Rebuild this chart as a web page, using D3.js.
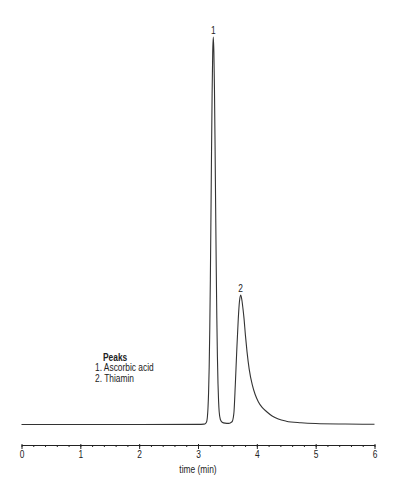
<!DOCTYPE html>
<html>
<head>
<meta charset="utf-8">
<script src="https://cdn.jsdelivr.net/npm/d3@7"></script>
<style>
  body { margin: 0; background: #fff; }
  text { font-family: "Liberation Sans", Arial, sans-serif; }
</style>
</head>
<body>
<script>
// chromatogram trace: retention time (min), signal (arb. units, peak 1 = 100)
const times = [0, 1, 2, 3.0, 3.10, 3.13, 3.15, 3.16, 3.17, 3.18, 3.19, 3.20, 3.21, 3.22, 3.23, 3.24, 3.25,
  3.26, 3.27, 3.28, 3.29, 3.30, 3.31, 3.32, 3.33, 3.34, 3.35, 3.36, 3.38, 3.41, 3.46, 3.52, 3.555,
  3.583, 3.60, 3.612, 3.634, 3.658, 3.685, 3.705, 3.726, 3.745, 3.765, 3.782, 3.805, 3.833, 3.87,
  3.923, 3.97, 4.025, 4.09, 4.168, 4.26, 4.365, 4.5, 4.75, 5.0, 5.5, 6.0];
const signal = [0, 0, 0, 0.03, 0.1, 0.3, 0.9, 2.0, 4.3, 8.3, 14.8, 24.5, 37.5, 53.5, 70.5, 85.5, 96,
  100, 96, 86.5, 72, 56, 40.5, 27.5, 17.5, 10.5, 6, 3.3, 1.3, 0.6, 0.35, 0.3, 0.45,
  0.8, 1.8, 3.3, 10.2, 18.8, 27.4, 31.8, 33.4, 32.2, 29.8, 27.4, 23.2, 18.8, 14.3,
  10.2, 7.8, 5.9, 4.4, 3.3, 2.2, 1.4, 0.85, 0.45, 0.25, 0.12, 0.06];

const peakNames = ["Ascorbic acid", "Thiamin"];
const peakTimes = [3.26, 3.726];
const peakHeights = [100, 33.4];

const xTicks = [0, 1, 2, 3, 4, 5, 6];
const minorTicks = d3.range(0, 31).map(i => i * 0.2);

const data = times.map((t, i) => ({t: t, v: signal[i]}));

const width = 396, height = 500;
const narrow = 0.84;   // the original uses a condensed face

const svg = d3.select("body").append("svg")
    .attr("width", width)
    .attr("height", height);

const x = d3.scaleLinear()
    .domain([0, 6])
    .range([21.5, 374.5]);

const y = d3.scaleLinear()
    .domain([0, 100])
    .range([424.5, 37]);

const axisY = 445;

// minor ticks
svg.append("g")
    .attr("transform", "translate(0," + axisY + ")")
    .call(d3.axisBottom(x).tickValues(minorTicks).tickSize(2).tickFormat(""))
    .call(g => g.select(".domain").remove())
    .selectAll("line").attr("stroke", "#222");

const bottomAxis = d3.axisBottom(x)
    .tickValues(xTicks)
    .tickSize(4)
    .tickSizeOuter(0)
    .tickFormat(d3.format("d"));

svg.append("g")
    .attr("class", "bottom axis")
    .attr("transform", "translate(0," + axisY + ")")
    .call(bottomAxis)
    .call(g => g.select(".domain").attr("stroke", "#222"))
    .call(g => g.selectAll(".tick line").attr("stroke", "#222").attr("y1", -1))
    .selectAll("text")
        .attr("y", 6)
        .attr("font-size", "10px")
        .attr("font-family", null)
        .attr("transform", "scale(" + narrow + ",1)")
        .style("fill", "#222");

svg.append("text")
    .attr("x", (x(0) + x(6)) / 2 / narrow)
    .attr("y", 473)
    .attr("transform", "scale(" + narrow + ",1)")
    .attr("font-size", "10px")
    .attr("text-anchor", "middle")
    .style("fill", "#222")
    .text("time (min)");

const line = d3.line()
    .x(d => x(d.t))
    .y(d => y(d.v))
    .curve(d3.curveMonotoneX);

svg.append("path")
    .datum(data)
    .attr("fill", "none")
    .attr("stroke", "#333")
    .attr("stroke-width", 1.1)
    .attr("d", line);

// peak numbers
svg.selectAll(".peak-label")
    .data(peakTimes)
    .enter()
    .append("text")
        .attr("class", "peak-label")
        .attr("x", d => x(d) / narrow)
        .attr("y", (d, i) => y(peakHeights[i]) - 3)
        .attr("transform", "scale(" + narrow + ",1)")
        .attr("font-size", "10px")
        .attr("text-anchor", "middle")
        .style("fill", "#222")
        .text((d, i) => i + 1);

// legend
svg.append("text")
    .attr("x", 103 / narrow)
    .attr("y", 361)
    .attr("transform", "scale(" + narrow + ",1)")
    .attr("font-size", "10px")
    .attr("font-weight", "bold")
    .style("fill", "#222")
    .text("Peaks");

svg.selectAll(".legend")
    .data(peakNames)
    .enter()
    .append("text")
        .attr("class", "legend")
        .attr("x", 95 / narrow)
        .attr("y", (d, i) => 371 + i * 11)
        .attr("transform", "scale(" + narrow + ",1)")
        .attr("font-size", "10px")
        .style("fill", "#222")
        .text((d, i) => (i + 1) + ". " + d);
</script>
</body>
</html>
